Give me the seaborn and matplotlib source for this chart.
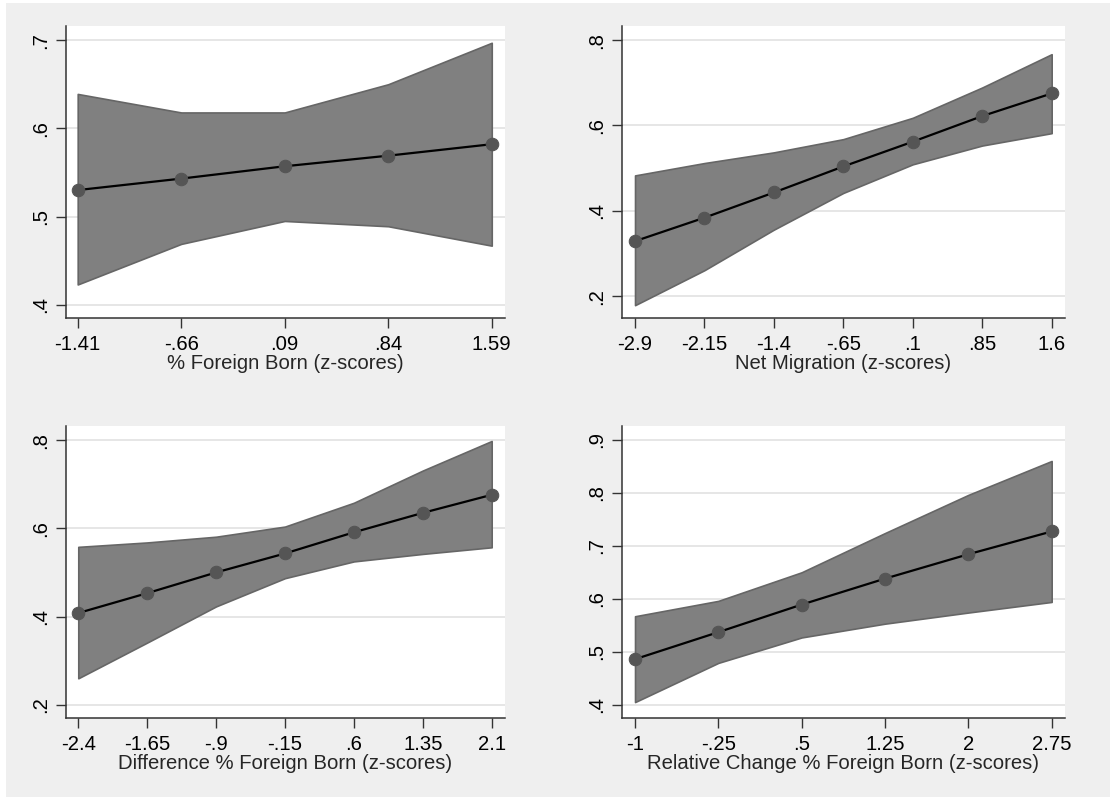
import matplotlib
matplotlib.use("Agg")
import matplotlib.pyplot as plt
import seaborn as sns
import pandas as pd
from matplotlib.patches import Rectangle

# ---- data ----
x1 = [-1.41, -0.66, 0.09, 0.84, 1.59]
y1 = [0.530, 0.543, 0.557, 0.569, 0.582]
hi1 = [0.639, 0.618, 0.618, 0.650, 0.697]
lo1 = [0.423, 0.469, 0.495, 0.489, 0.467]
xt1 = ["-1.41", "-.66", ".09", ".84", "1.59"]
yv1 = [0.4, 0.5, 0.6, 0.7]
yt1 = [".4", ".5", ".6", ".7"]

x2 = [-2.9, -2.15, -1.4, -0.65, 0.1, 0.85, 1.6]
y2 = [0.329, 0.384, 0.443, 0.504, 0.562, 0.622, 0.675]
hi2 = [0.483, 0.512, 0.537, 0.568, 0.618, 0.689, 0.767]
lo2 = [0.179, 0.261, 0.356, 0.442, 0.509, 0.553, 0.582]
xt2 = ["-2.9", "-2.15", "-1.4", "-.65", ".1", ".85", "1.6"]
yv2 = [0.2, 0.4, 0.6, 0.8]
yt2 = [".2", ".4", ".6", ".8"]

x3 = [-2.4, -1.65, -0.9, -0.15, 0.6, 1.35, 2.1]
y3 = [0.408, 0.453, 0.500, 0.543, 0.591, 0.635, 0.676]
hi3 = [0.558, 0.568, 0.581, 0.604, 0.658, 0.731, 0.798]
lo3 = [0.260, 0.341, 0.423, 0.487, 0.525, 0.542, 0.557]
xt3 = ["-2.4", "-1.65", "-.9", "-.15", ".6", "1.35", "2.1"]
yv3 = [0.2, 0.4, 0.6, 0.8]
yt3 = [".2", ".4", ".6", ".8"]

x4 = [-1.0, -0.25, 0.5, 1.25, 2.0, 2.75]
y4 = [0.486, 0.537, 0.589, 0.638, 0.684, 0.727]
hi4 = [0.567, 0.596, 0.650, 0.724, 0.796, 0.860]
lo4 = [0.405, 0.479, 0.527, 0.553, 0.574, 0.594]
xt4 = ["-1", "-.25", ".5", "1.25", "2", "2.75"]
yv4 = [0.4, 0.5, 0.6, 0.7, 0.8, 0.9]
yt4 = [".4", ".5", ".6", ".7", ".8", ".9"]

labels = ["% Foreign Born (z-scores)", "Net Migration (z-scores)",
          "Difference % Foreign Born (z-scores)",
          "Relative Change % Foreign Born (z-scores)"]

sns.set_theme(style="white")
plt.rcParams['font.family'] = ['Liberation Sans', 'DejaVu Sans']

FS = 14.6

fig = plt.figure(figsize=(11.10, 8.01), dpi=100)
fig.patch.set_facecolor("white")
fig.patches.append(Rectangle((6 / 1110, 4 / 801), 1 - 6 / 1110, 1 - 7 / 801,
                             transform=fig.transFigure, facecolor="#efefef",
                             edgecolor="none", zorder=-10))

W1 = (505 - 65.7) / 1110
W2 = (1065 - 621.7) / 1110
H = 292 / 801
positions = [
    (65.7 / 1110, 483 / 801, W1, H),
    (621.7 / 1110, 483 / 801, W2, H),
    (65.7 / 1110, 83 / 801, W1, H),
    (621.7 / 1110, 83 / 801, W2, H),
]
xlims = [(-1.497, 1.686), (-3.044, 1.744), (-2.537, 2.245), (-1.12, 2.87)]
ylims = [(0.385, 0.716), (0.149, 0.833), (0.170, 0.832), (0.375, 0.926)]

panels = [
    (x1, y1, hi1, lo1, xt1, yv1, yt1),
    (x2, y2, hi2, lo2, xt2, yv2, yt2),
    (x3, y3, hi3, lo3, xt3, yv3, yt3),
    (x4, y4, hi4, lo4, xt4, yv4, yt4),
]

for i, (xs, ys, his, los, xts, yvs, yts) in enumerate(panels):
    ax = fig.add_axes(positions[i])
    ax.set_facecolor("white")
    df = pd.DataFrame({"x": xs, "y": ys, "hi": his, "lo": los})
    for v in yvs:
        ax.axhline(v, color="#e6e6e6", lw=1.4, zorder=0)
    ax.fill_between(df["x"], df["lo"], df["hi"], facecolor="#808080",
                    edgecolor="#666666", lw=1.2, zorder=2)
    sns.lineplot(data=df, x="x", y="y", ax=ax, color="black", lw=1.6,
                 marker="o", markersize=9, markerfacecolor="#555555",
                 markeredgecolor="#555555", zorder=3)
    ax.set_xlim(*xlims[i])
    ax.set_ylim(*ylims[i])
    ax.set_xticks(xs)
    ax.set_xticklabels(xts, fontsize=FS)
    ax.set_yticks(yvs)
    ax.set_yticklabels(yts, fontsize=FS, rotation=90, va="center")
    ax.set_xlabel(labels[i], fontsize=FS, labelpad=0)
    ax.set_ylabel("")
    for s in ["top", "right"]:
        ax.spines[s].set_visible(False)
    for s in ["left", "bottom"]:
        ax.spines[s].set_color("#333333")
        ax.spines[s].set_linewidth(1.1)
    ax.tick_params(axis="both", which="major", direction="out", length=7,
                   width=1.0, color="#333333", labelcolor="black",
                   bottom=True, left=True)
    ax.tick_params(axis="x", pad=5)
    ax.tick_params(axis="y", pad=4)

fig.savefig("out.png", dpi=100)
